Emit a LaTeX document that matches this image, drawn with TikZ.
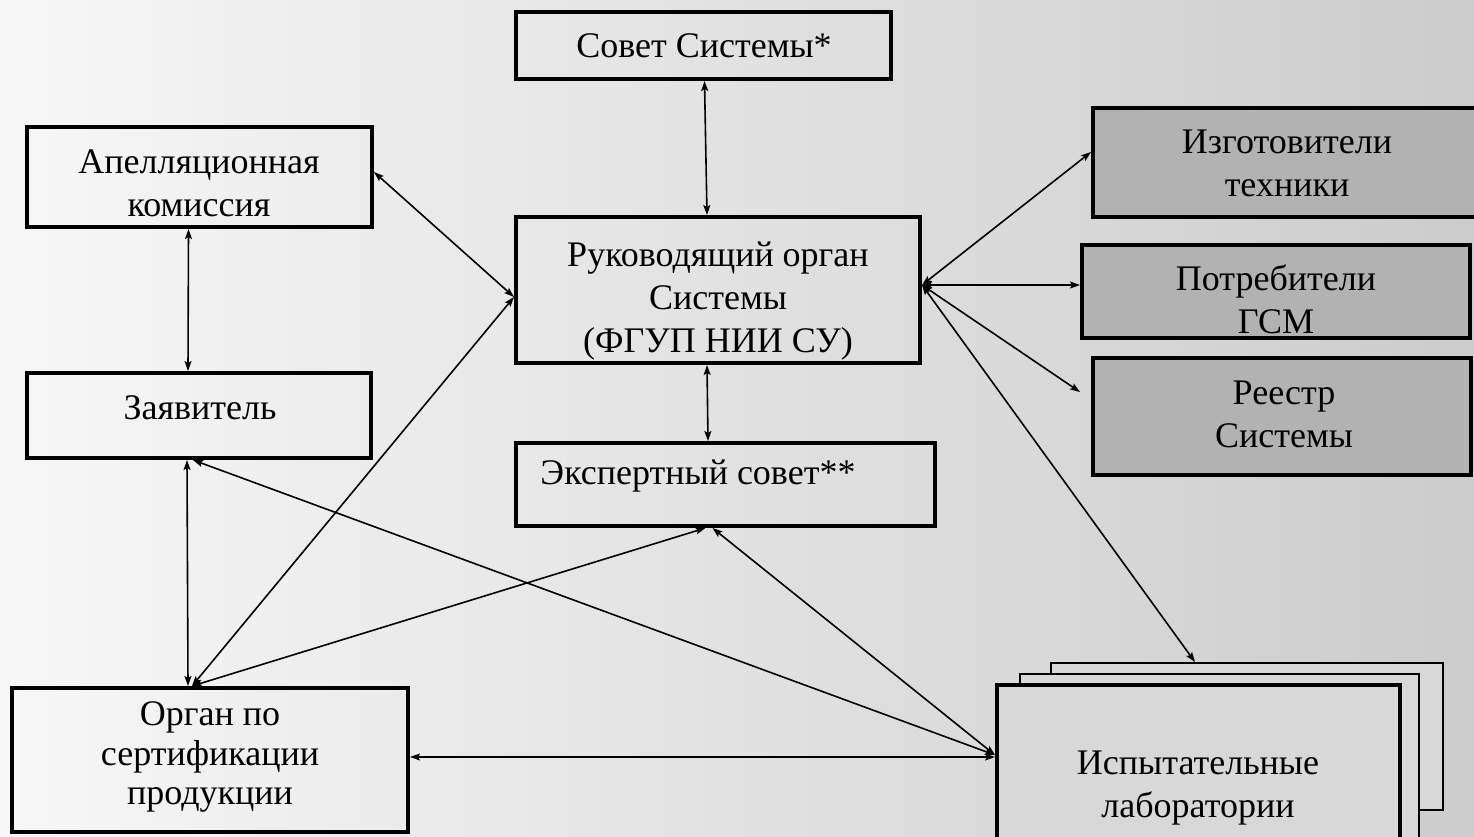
\documentclass[tikz,border=0pt]{standalone}
\usepackage{fontspec}
\setmainfont{Liberation Serif}
\usetikzlibrary{arrows.meta}
\definecolor{bgL}{HTML}{F7F7F7}
\definecolor{bgM}{HTML}{E6E6E6}
\definecolor{bgR}{HTML}{CCCCCC}
\definecolor{darkfill}{HTML}{B2B2B2}
\definecolor{labfill}{HTML}{D8D8D8}
\begin{document}
\begin{tikzpicture}[x=1pt,y=-1pt,
  box/.style={draw=black, line width=4pt, inner sep=0pt, rectangle},
  darkbox/.style={box, fill=darkfill},
  labbox/.style={draw=black, line width=2pt, fill=labfill, inner sep=0pt, rectangle},
  txt/.style={font=\fontsize{36}{43}\selectfont, align=center, inner sep=0pt, text=black},
  conn/.style={line width=1.6pt, {Stealth[length=10pt,width=7pt,inset=2pt]}-{Stealth[length=10pt,width=7pt,inset=2pt]}}
]
\useasboundingbox (0,0) rectangle (1474,836);
\shade[left color=bgL, middle color=bgM, right color=bgR] (0,0) rectangle (1474,836);

% stacked laboratory boxes
\node[labbox, minimum width=392, minimum height=147] (ispc) at (1247,736.5) {};
\node[labbox, minimum width=399, minimum height=170] (ispb) at (1219.5,759) {};
\node[box, fill=labfill, minimum width=403, minimum height=170] (isp) at (1198.5,770) {};

% boxes
\node[box, minimum width=375, minimum height=67] (sovet) at (703.5,45.5) {};
\node[box, minimum width=345, minimum height=100] (apel) at (199.5,177) {};
\node[box, minimum width=404, minimum height=146] (ruk) at (718,290) {};
\node[box, minimum width=344, minimum height=85] (zayav) at (199,415.5) {};
\node[box, minimum width=419, minimum height=83] (eksp) at (725.5,484.5) {};
\node[box, minimum width=396, minimum height=144] (organ) at (210,760) {};
\node[darkbox, minimum width=387, minimum height=109] (izg) at (1286.5,162.5) {};
\node[darkbox, minimum width=388, minimum height=93] (potr) at (1276,291.5) {};
\node[darkbox, minimum width=378, minimum height=117] (reestr) at (1282,416.5) {};

% texts
\node[txt] (tsovet) at (704,46) {Совет Системы*};
\node[txt] (tapel) at (199,183) {Апелляционная\\комиссия};
\node[txt] (truk) at (718,301) {Руководящий орган\\Системы\\(ФГУП НИИ СУ)};
\node[txt] (tzayav) at (200,408) {Заявитель};
\node[txt] (teksp) at (698,476) {Экспертный совет**};
\node[txt] (tizg) at (1287,163) {Изготовители\\техники};
\node[txt] (tpotr) at (1276,299) {Потребители\\ГСМ};
\node[txt] (treestr) at (1284,414) {Реестр\\Системы};
\node[txt, font=\fontsize{36}{39.5}\selectfont] (torgan) at (210,757) {Орган по\\сертификации\\продукции};
\node[txt] (tisp) at (1198,788) {Испытательные\\лаборатории};

% connectors
\draw[conn] ([xshift=1]sovet.south) -- ([xshift=-11]ruk.north);
\draw[conn] ([xshift=-11]ruk.south) -- ([xshift=-17.5]eksp.north);
\draw[conn] ([yshift=5]apel.east) -- ([yshift=-7]ruk.west);
\draw[conn] ([xshift=-11]apel.south) -- ([xshift=-11]zayav.north);
\draw[conn] ([xshift=-12]zayav.south) -- ([xshift=-22]organ.north);
\draw[conn] ([xshift=-18]organ.north) -- ([yshift=-7]ruk.west);
\draw[conn] ([xshift=-18]organ.north) -- ([xshift=-20]eksp.south);
\draw[conn] ([xshift=-6]zayav.south) -- ([yshift=15]isp.west);
\draw[conn] ([xshift=-13]eksp.south) -- ([yshift=15]isp.west);
\draw[conn] ([yshift=3]organ.east) -- ([yshift=13]isp.west);
\draw[conn] ([yshift=5]ruk.east) -- ([yshift=10.5]izg.west);
\draw[conn] ([yshift=5]ruk.east) -- ([yshift=6.5]potr.west);
\draw[conn] ([yshift=5]ruk.east) -- ([xshift=-11,yshift=24.5]reestr.west);
\draw[conn] ([yshift=5]ruk.east) -- ([xshift=-52]ispc.north);
\end{tikzpicture}
\end{document}
